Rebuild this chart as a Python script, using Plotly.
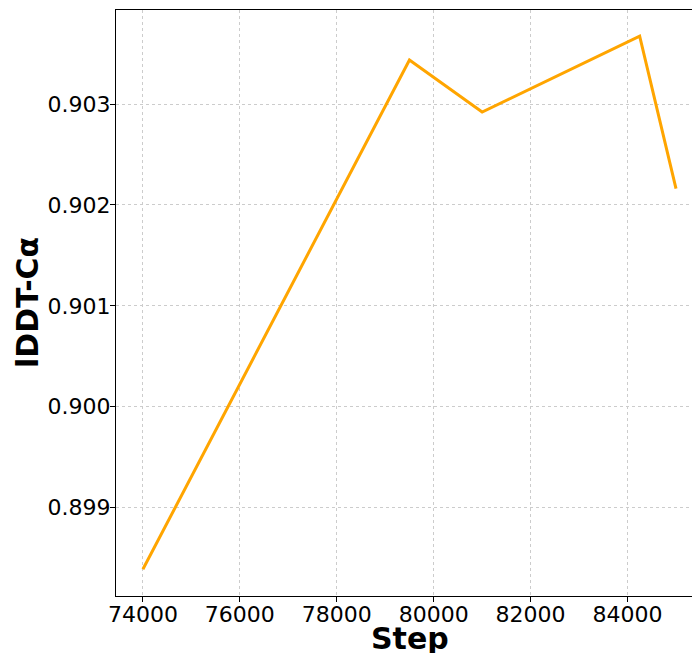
import plotly.graph_objects as go

steps = [74000, 79500, 81000, 84250, 85000]
lddt = [0.89839, 0.903436, 0.902921, 0.903674, 0.902162]
x_ticks = [74000, 76000, 78000, 80000, 82000, 84000]
y_ticks = [0.899, 0.900, 0.901, 0.902, 0.903]

fig = go.Figure()
fig.add_trace(go.Scatter(x=steps, y=lddt, mode="lines",
                         line=dict(color="#FFA500", width=3)))

font = "DejaVu Sans"
fig.update_layout(
    width=692, height=653,
    margin=dict(l=116, r=0, t=10, b=57),
    plot_bgcolor="white", paper_bgcolor="white",
    showlegend=False,
    font=dict(family=font, size=21, color="black"),
    annotations=[
        dict(text="<b>Step</b>", xref="paper", yref="paper", x=0.5104, y=-0.0717,
             xanchor="center", yanchor="middle", showarrow=False,
             font=dict(size=30, family=font, color="black")),
        dict(text="<b>lDDT-Cα</b>", xref="paper", yref="paper", x=-0.1545, y=0.5,
             xanchor="center", yanchor="middle", showarrow=False, textangle=-90,
             font=dict(size=30, family=font, color="black")),
    ],
)
fig.update_xaxes(
    range=[73445, 85330], tickvals=x_ticks, ticktext=[str(v) for v in x_ticks],
    tickfont=dict(family=font, size=22, color="black"),
    showgrid=True, gridcolor="#cccccc", griddash="dot", gridwidth=0.8,
    showline=True, linecolor="black", linewidth=1, mirror=True,
    ticks="outside", ticklen=5, tickcolor="black", ticklabelstandoff=-6,
    zeroline=False, automargin=False,
)
fig.update_yaxes(
    range=[0.898125, 0.903932], tickvals=y_ticks, ticktext=[f"{v:.3f}" for v in y_ticks],
    tickfont=dict(family=font, size=22, color="black"),
    showgrid=True, gridcolor="#cccccc", griddash="dot", gridwidth=0.8,
    showline=True, linecolor="black", linewidth=1, mirror=True,
    ticks="outside", ticklen=5, tickcolor="black", ticklabelstandoff=-5,
    zeroline=False, automargin=False,
)
fig.write_html("out.html")
